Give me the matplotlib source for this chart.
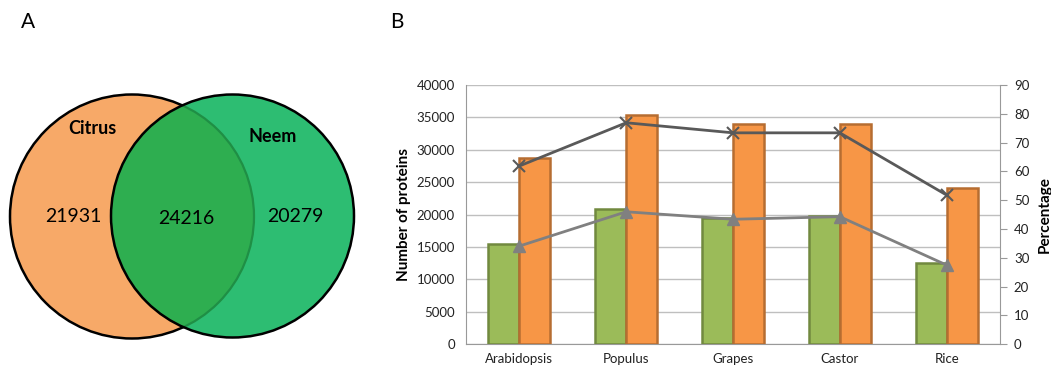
import matplotlib
matplotlib.use("Agg")
import matplotlib.pyplot as plt
import numpy as np
from matplotlib.patches import Circle

plt.rcParams['font.family'] = ['Lato', 'DejaVu Sans']

# Venn counts
venn_names = ['Citrus', 'Neem']
venn_counts = [21931, 24216, 20279]  # citrus only, shared, neem only

# bar chart data
species = ['Arabidopsis', 'Populus', 'Grapes', 'Castor', 'Rice']
green_vals = [15400, 20800, 19550, 19850, 12500]
orange_vals = [28700, 35450, 34000, 34000, 24050]
pct_cross = [61.9, 76.9, 73.4, 73.4, 51.8]
pct_tri = [34.1, 46.0, 43.4, 44.3, 27.5]

fig = plt.figure(figsize=(10.51, 3.68), dpi=100)

# ---- panel A: Venn, drawn in pixel coords
av = fig.add_axes([0, 0, 1, 1])
av.set_xlim(0, 1051)
av.set_ylim(368, 0)
av.axis('off')
cit_c, cit_r = (132, 216.5), 122
neem_c, neem_r = (232.5, 216), 121.5

av.add_patch(Circle(cit_c, cit_r, facecolor='#F7A968', edgecolor='none', zorder=1))
av.add_patch(Circle(cit_c, cit_r, fill=False, edgecolor='black', lw=1.8, zorder=2))
av.add_patch(Circle(neem_c, neem_r, facecolor='#2DBD72', edgecolor='none', zorder=3))
overlap = Circle(neem_c, neem_r, facecolor='#2EAE50', edgecolor='none', zorder=4)
av.add_patch(overlap)
overlap.set_clip_path(Circle(cit_c, cit_r, transform=av.transData))
inner = Circle(cit_c, cit_r, fill=False, edgecolor='#1f8f45', lw=1.6, zorder=5)
av.add_patch(inner)
inner.set_clip_path(Circle(neem_c, neem_r, transform=av.transData))
av.add_patch(Circle(neem_c, neem_r, fill=False, edgecolor='black', lw=1.8, zorder=6))

av.text(28, 22, 'A', fontsize=15, ha='center', va='center')
av.text(397, 22, 'B', fontsize=15, ha='center', va='center')
av.text(92, 129, venn_names[0], fontsize=13, fontweight='bold', ha='center', va='center', zorder=7)
av.text(273, 137, venn_names[1], fontsize=13, fontweight='bold', ha='center', va='center', zorder=7)
av.text(73, 216, str(venn_counts[0]), fontsize=14, ha='center', va='center', zorder=7)
av.text(186, 218, str(venn_counts[1]), fontsize=14, ha='center', va='center', zorder=7)
av.text(295, 216, str(venn_counts[2]), fontsize=14, ha='center', va='center', zorder=7)

# ---- panel B: bars + percentage lines
ax = fig.add_axes([0.4434, 0.0644, 0.5081, 0.7046])
x = np.arange(len(species))
w = 0.29
ax.bar(x - w / 2, green_vals, w, color='#9BBB59', edgecolor='#71893F', lw=1.8, zorder=3)
ax.bar(x + w / 2, orange_vals, w, color='#F79646', edgecolor='#B66D31', lw=1.8, zorder=3)
ax.set_xlim(-0.5, len(species) - 0.5)
ax.set_ylim(0, 40000)
ax.set_yticks(range(0, 40001, 5000))
ax.set_xticks(x)
ax.set_xticklabels(species, fontsize=9.5, color='#222222')
ax.tick_params(axis='x', length=0, pad=6)
ax.tick_params(axis='y', length=0, labelsize=9.5, labelcolor='#222222', pad=8)
ax.grid(axis='y', color='#bfbfbf', lw=1, zorder=0)
ax.set_ylabel('Number of proteins', fontsize=11, fontweight='bold', labelpad=4)
for s in ['top', 'right']:
    ax.spines[s].set_visible(False)
for s in ['left', 'bottom']:
    ax.spines[s].set_color('#999999')

ax2 = ax.twinx()
ax2.plot(x, pct_cross, color='#595959', lw=2, marker='x', ms=8, mew=1.5, zorder=5)
ax2.plot(x, pct_tri, color='#808080', lw=2, marker='^', ms=9, zorder=5)
ax2.set_ylim(0, 90)
ax2.set_yticks(range(0, 91, 10))
ax2.tick_params(axis='y', length=5, color='#999999', labelsize=9.5, labelcolor='#222222', pad=5)
ax2.set_ylabel('Percentage', fontsize=11, fontweight='bold', labelpad=6)
for s in ['top', 'left', 'bottom']:
    ax2.spines[s].set_visible(False)
ax2.spines['right'].set_color('#999999')

fig.savefig('out.png', dpi=100)
